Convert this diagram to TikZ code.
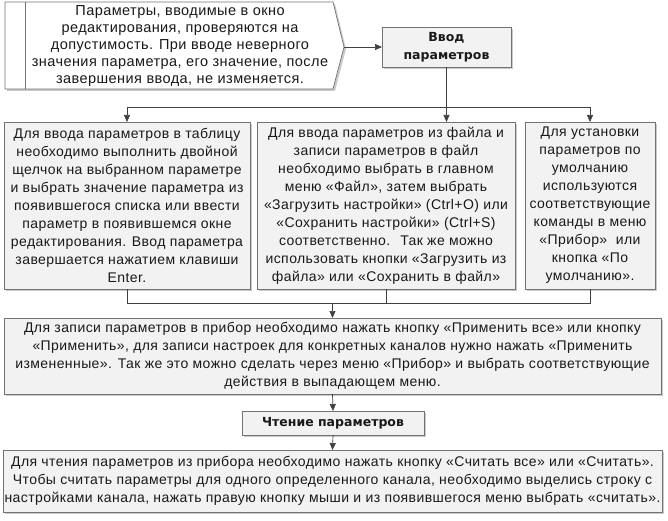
\documentclass[tikz,border=0pt]{standalone}
\usepackage{fontspec}
\setmainfont{Liberation Sans}[LetterSpace=3]
\newfontfamily\boldfam{DejaVu Sans}
\usetikzlibrary{arrows.meta,shadows}
\begin{document}
\begin{tikzpicture}[x=1pt,y=-1pt,
  every node/.style={inner sep=0pt,outer sep=0pt},
  txt/.style={font=\fontsize{14}{18}\selectfont,align=center,text=black!90},
  box/.style={draw=black!55,fill=black!5,line width=0.7pt,
     drop shadow={shadow xshift=2pt,shadow yshift=-2pt,fill=black!35,opacity=0.6},
     txt},
  head/.style={box,font=\boldfam\bfseries\fontsize{12.5}{18}\selectfont},
  conn/.style={draw=black!75,line width=0.7pt},
  arr/.style={conn,-{Triangle[width=6pt,length=7pt]}}]
\useasboundingbox (0,0) rectangle (668,521);

% annotation
\path[draw=black!55,fill=white,line width=0.7pt,
   drop shadow={shadow xshift=2pt,shadow yshift=-2pt,fill=black!35,opacity=0.6}]
  (5,2) -- (333,2) -- (344,47) -- (333,89) -- (5,89) -- cycle;
\draw[draw=black!55,line width=0.7pt] (25,2) -- (25,89);
\coordinate (anntip) at (344,47);
\node[txt,font=\fontsize{14.5}{17}\selectfont] (ann) at (180,46) {Параметры, вводимые в окно\\редактирования, проверяются на\\допустимость. При вводе неверного\\значения параметра, его значение, после\\завершения ввода, не изменяется.};

\node[head,minimum width=129,minimum height=40] (vvod) at (446.5,47) {Ввод\\параметров};

\node[box,minimum width=246,minimum height=167] (b1) at (127,205.5) {Для ввода параметров в таблицу\\необходимо выполнить двойной\\щелчок на выбранном параметре\\и выбрать значение параметра из\\появившегося списка или ввести\\параметр в появившемся окне\\редактирования. Ввод параметра\\завершается нажатием клавиши\\Enter.};

\node[box,minimum width=258,minimum height=167] (b2) at (386,205.5) {Для ввода параметров из файла и\\записи параметров в файл\\необходимо выбрать в главном\\меню «Файл», затем выбрать\\«Загрузить настройки» (Ctrl+O) или\\«Сохранить настройки» (Ctrl+S)\\соответственно.~ Так же можно\\использовать кнопки «Загрузить из\\файла» или «Сохранить в файл»};

\node[box,minimum width=130,minimum height=167] (b3) at (590,205.5) {Для установки\\параметров по\\умолчанию\\используются\\соответствующие\\команды в меню\\«Прибор»~ или\\кнопка «По\\умолчанию».};

\node[box,minimum width=657,minimum height=76] (b4) at (332.5,356) {Для записи параметров в прибор необходимо нажать кнопку «Применить все» или кнопку\\«Применить», для записи настроек для конкретных каналов нужно нажать «Применить\\измененные». Так же это можно сделать через меню «Прибор» и выбрать соответствующие\\действия в выпадающем меню.};

\node[head,minimum width=182,minimum height=24] (b5) at (333,423) {Чтение параметров};

\node[box,minimum width=659,minimum height=62] (b6) at (332.5,481) {Для чтения параметров из прибора необходимо нажать кнопку «Считать все» или «Считать».\\Чтобы считать параметры для одного определенного канала, необходимо выделись строку с\\настройками канала, нажать правую кнопку мыши и из появившегося меню выбрать «считать».};

% connectors
\draw[arr] (anntip) -- (vvod.west);
\coordinate (j) at (446.5,107);
\draw[arr] (vvod.south) -- (vvod.south |- b2.north);
\draw[arr] (j) -| (b1.north);
\draw[arr] (j) -| (b3.north);
\coordinate (m) at (332.5,303);
\draw[conn] (b1.south) |- (m);
\draw[conn] (b3.south) |- (m);
\draw[conn] (b2.south) -- (b2.south |- m);
\draw[arr] (m) -- (b4.north);
\draw[arr] (b4.south) -- (b5.north);
\draw[arr] (b5.south) -- (b6.north);
\end{tikzpicture}
\end{document}
